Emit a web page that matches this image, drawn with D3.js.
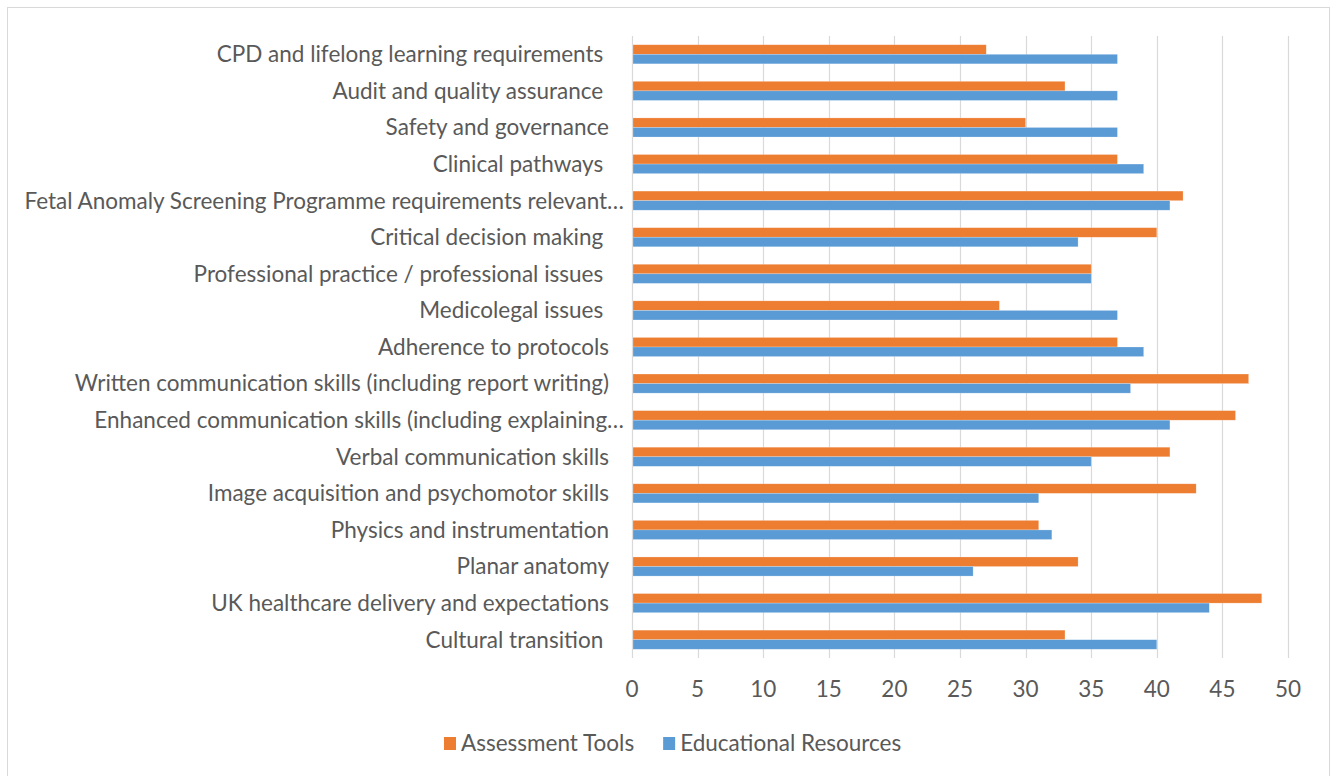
<!DOCTYPE html>
<html>
<head>
<meta charset="utf-8">
<script src="https://cdn.jsdelivr.net/npm/d3@7"></script>
<style>
  html, body { margin: 0; padding: 0; background: #fff; }
  svg text { font-family: "Lato", "Open Sans", sans-serif; fill: #595959; white-space: pre; }
</style>
</head>
<body>
<svg id="chart" width="1338" height="776"></svg>
<script>
// ---- data ----
const categories = [
  "CPD and lifelong learning requirements ",
  "Audit and quality assurance ",
  "Safety and governance",
  "Clinical pathways ",
  "Fetal Anomaly Screening Programme requirements relevant…",
  "Critical decision making ",
  "Professional practice / professional issues ",
  "Medicolegal issues ",
  "Adherence to protocols",
  "Written communication skills (including report writing)",
  "Enhanced communication skills (including explaining…",
  "Verbal communication skills",
  "Image acquisition and psychomotor skills",
  "Physics and instrumentation",
  "Planar anatomy",
  "UK healthcare delivery and expectations",
  "Cultural transition "
];
const assessmentTools    = [27, 33, 30, 37, 42, 40, 35, 28, 37, 47, 46, 41, 43, 31, 34, 48, 33];
const educationalResources = [37, 37, 37, 39, 41, 34, 35, 37, 39, 38, 41, 35, 31, 32, 26, 44, 40];
const seriesNames = ["Assessment Tools", "Educational Resources"];
const seriesColors = ["#ED7D31", "#5B9BD5"];
const xTicks = [0, 5, 10, 15, 20, 25, 30, 35, 40, 45, 50];

// ---- layout ----
const svg = d3.select("#chart");
const W = 1338, H = 776;
const plot = { left: 632, right: 1288, top: 36, bottom: 658 };

// chart border
svg.append("rect")
  .attr("x", 7.5).attr("y", 7.5)
  .attr("width", 1322).attr("height", 780)
  .attr("fill", "#fff").attr("stroke", "#d9d9d9").attr("stroke-width", 1);

// font size fit: widest label ~600px
const probe = svg.append("text").attr("font-size", 20).text(categories[4]);
const w20 = probe.node().getComputedTextLength();
probe.remove();
const fs = Math.round(20 * 600 / w20 * 10) / 10;

const x = d3.scaleLinear().domain([0, 50]).range([plot.left, plot.right]);
const y = d3.scaleBand().domain(categories).range([plot.top, plot.bottom])
  .paddingInner(0.478).paddingOuter(0.239);
const ys = d3.scaleBand().domain(seriesNames).range([0, y.bandwidth()]);

// gridlines
svg.append("g").selectAll("line").data(xTicks).join("line")
  .attr("x1", d => Math.round(x(d)) + 0.5).attr("x2", d => Math.round(x(d)) + 0.5)
  .attr("y1", plot.top).attr("y2", plot.bottom)
  .attr("stroke", "#d9d9d9").attr("stroke-width", 1.2);

// bars
const series = [assessmentTools, educationalResources];
series.forEach((vals, si) => {
  svg.append("g").selectAll("rect").data(vals).join("rect")
    .attr("x", x(0) + 1)
    .attr("y", (d, i) => y(categories[i]) + ys(seriesNames[si]))
    .attr("width", d => x(d) - x(0) - 1)
    .attr("height", ys.bandwidth())
    .attr("fill", seriesColors[si])
    .attr("stroke", "#ffffff").attr("stroke-opacity", 0.35).attr("stroke-width", 0.6);
});

// x tick labels
svg.append("g").selectAll("text").data(xTicks).join("text")
  .attr("x", d => x(d))
  .attr("y", 689)
  .attr("dy", "0.35em")
  .attr("text-anchor", "middle")
  .attr("font-size", fs)
  .text(d => d);

// category labels
svg.append("g").selectAll("text").data(categories).join("text")
  .attr("x", d => d.endsWith("…") ? plot.left - 8 : plot.left - 23)
  .attr("y", d => y(d) + y.bandwidth() / 2)
  .attr("dy", "0.35em")
  .attr("text-anchor", "end")
  .attr("font-size", fs)
  .text(d => d);

// legend
const legend = svg.append("g");
const items = [];
let cx = 0;
seriesNames.forEach((name, i) => {
  const g = legend.append("g");
  g.append("rect").attr("x", cx).attr("y", -6).attr("width", 12).attr("height", 13)
    .attr("fill", seriesColors[i]);
  const t = g.append("text").attr("x", cx + 17).attr("y", 0).attr("dy", "0.35em")
    .attr("font-size", fs).text(name);
  cx += 17 + t.node().getComputedTextLength() + 29;
});
const totalW = cx - 29;
legend.attr("transform", `translate(${Math.round(673 - totalW / 2)},743)`);
</script>
</body>
</html>
